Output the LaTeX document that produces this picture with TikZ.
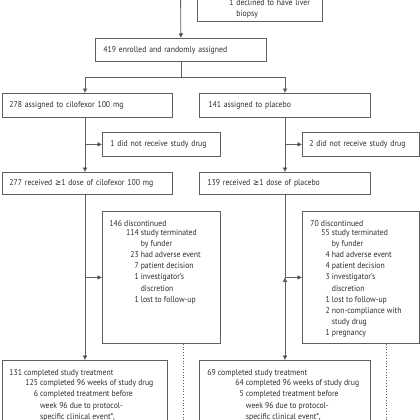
\documentclass[tikz,border=0pt]{standalone}
\usepackage{fontspec}
\setmainfont[FakeStretch=0.91]{PT Sans}
\newfontfamily\symfont[FakeStretch=0.85]{DejaVu Sans}
\usepackage{tikz}
\usetikzlibrary{positioning,arrows.meta}

\definecolor{linegray}{RGB}{95,95,95}
\definecolor{textgray}{RGB}{45,45,45}

% top aligned text of fixed size inside a box
\newcommand{\topblock}[3]{\begin{minipage}[t][#1][t]{#2}#3\end{minipage}}
\newcommand{\sublist}[2]{\hspace*{#1}\begin{tabular}{@{}r@{\ }l@{}}#2\end{tabular}}
\newcommand{\atleast}{{\symfont ≥}}

\begin{document}
\begin{tikzpicture}[x=1pt,y=-1pt,>={Latex[length=4.5pt,width=5pt]},
	flow/.style={draw=linegray, line width=0.8pt, anchor=north west, align=left,
		inner xsep=7pt, inner ysep=0pt, text=textgray,
		font=\fontsize{8.5}{11.2}\selectfont},
	link/.style={draw=linegray, line width=0.8pt}]
		\useasboundingbox (0,0) rectangle (420,420);
		\coordinate (colL) at (85,0);
		\coordinate (colR) at (285,0);
		\coordinate (dotL) at (183,0);
		\coordinate (dotR) at (386,0);
		\coordinate (top) at (180.5,-10);
		% boxes
		\node[flow, anchor=south west, inner ysep=1.6pt, text width=111pt] at (197,22) (excl)
			{\sublist{25pt}{1 & declined to have liver\\ & biopsy}};
		\node[flow, inner xsep=8pt, text width=155pt, minimum height=23pt] at (95,38) (enrol)
			{419 enrolled and randomly assigned};
		\node[flow, text width=156pt, minimum height=24pt] at (2,93) (cilo)
			{278 assigned to cilofexor 100 mg};
		\node[flow, inner xsep=9pt, text width=153pt, minimum height=24pt] at (199,93) (plac)
			{141 assigned to placebo};
		\node[flow, inner xsep=8pt, text width=102pt, minimum height=24pt] at (102,132) (cilonr)
			{1 did not receive study drug};
		\node[flow, text width=103pt, minimum height=24pt] at (302,132) (placnr)
			{2 did not receive study drug};
		\node[flow, text width=156pt, minimum height=22pt] at (2,172) (cilorec)
			{277 received \atleast1 dose of cilofexor 100 mg};
		\node[flow, inner xsep=8pt, text width=155pt, minimum height=22pt] at (199,172) (placrec)
			{139 received \atleast1 dose of placebo};
		\node[flow, inner ysep=8.7pt] at (102,211) (cilodisc)
			{\topblock{114.6pt}{104pt}{146 discontinued\\
				\sublist{16.7pt}{114 & study terminated\\ & by funder\\
				23 & had adverse event\\ 7 & patient decision\\
				1 & investigator's\\ & discretion\\ 1 & lost to follow-up}}};
		\node[flow, inner xsep=8pt, inner ysep=8.7pt] at (302,211) (placdisc)
			{\topblock{114.6pt}{101pt}{70 discontinued\\
				\sublist{11pt}{55 & study terminated\\ & by funder\\
				4 & had adverse event\\ 4 & patient decision\\
				3 & investigator's\\ & discretion\\ 1 & lost to follow-up\\
				2 & non-compliance with\\ & study drug\\ 1 & pregnancy}}};
		\node[flow, inner ysep=8.7pt] at (2,360) (cilocomp)
			{\topblock{70pt}{151pt}{131 completed study treatment\\
				\sublist{16pt}{125 & completed 96 weeks of study drug\\
				6 & completed treatment before\\ & week 96 due to protocol-\\
				& specific clinical event*,}}};
		\node[flow, inner xsep=8pt, inner ysep=8.7pt] at (199,360) (placcomp)
			{\topblock{70pt}{155pt}{69 completed study treatment\\
				\sublist{28pt}{64 & completed 96 weeks of study drug\\
				5 & completed treatment before\\ & week 96 due to protocol-\\
				& specific clinical event*,}}};
		% connectors
		\path[link,->] (top) edge (enrol.north);
		\draw[link] (enrol.south) -- ++(0,16) coordinate (fork);
		\draw[link,->] (fork) -| (colL |- cilo.north);
		\draw[link,->] (fork) -| (colR |- plac.north);
		\path[link,->]
			(colL |- cilo.south) edge (colL |- cilorec.north)
			(colR |- plac.south) edge (colR |- placrec.north)
			(colL |- cilonr.west) edge (cilonr.west)
			(colR |- placnr.west) edge (placnr.west)
			(colL |- cilorec.south) edge (colL |- cilocomp.north)
			(colR |- placrec.south) edge (colR |- placcomp.north)
			(colL |- cilodisc.west) edge (cilodisc.west)
			(colR |- placdisc.west) edge (placdisc.west);
		\draw[link, dotted] (dotL |- cilodisc.south) -- ++(0,90);
		\draw[link, dotted] (dotR |- placdisc.south) -- ++(0,90);
	\end{tikzpicture}
\end{document}
